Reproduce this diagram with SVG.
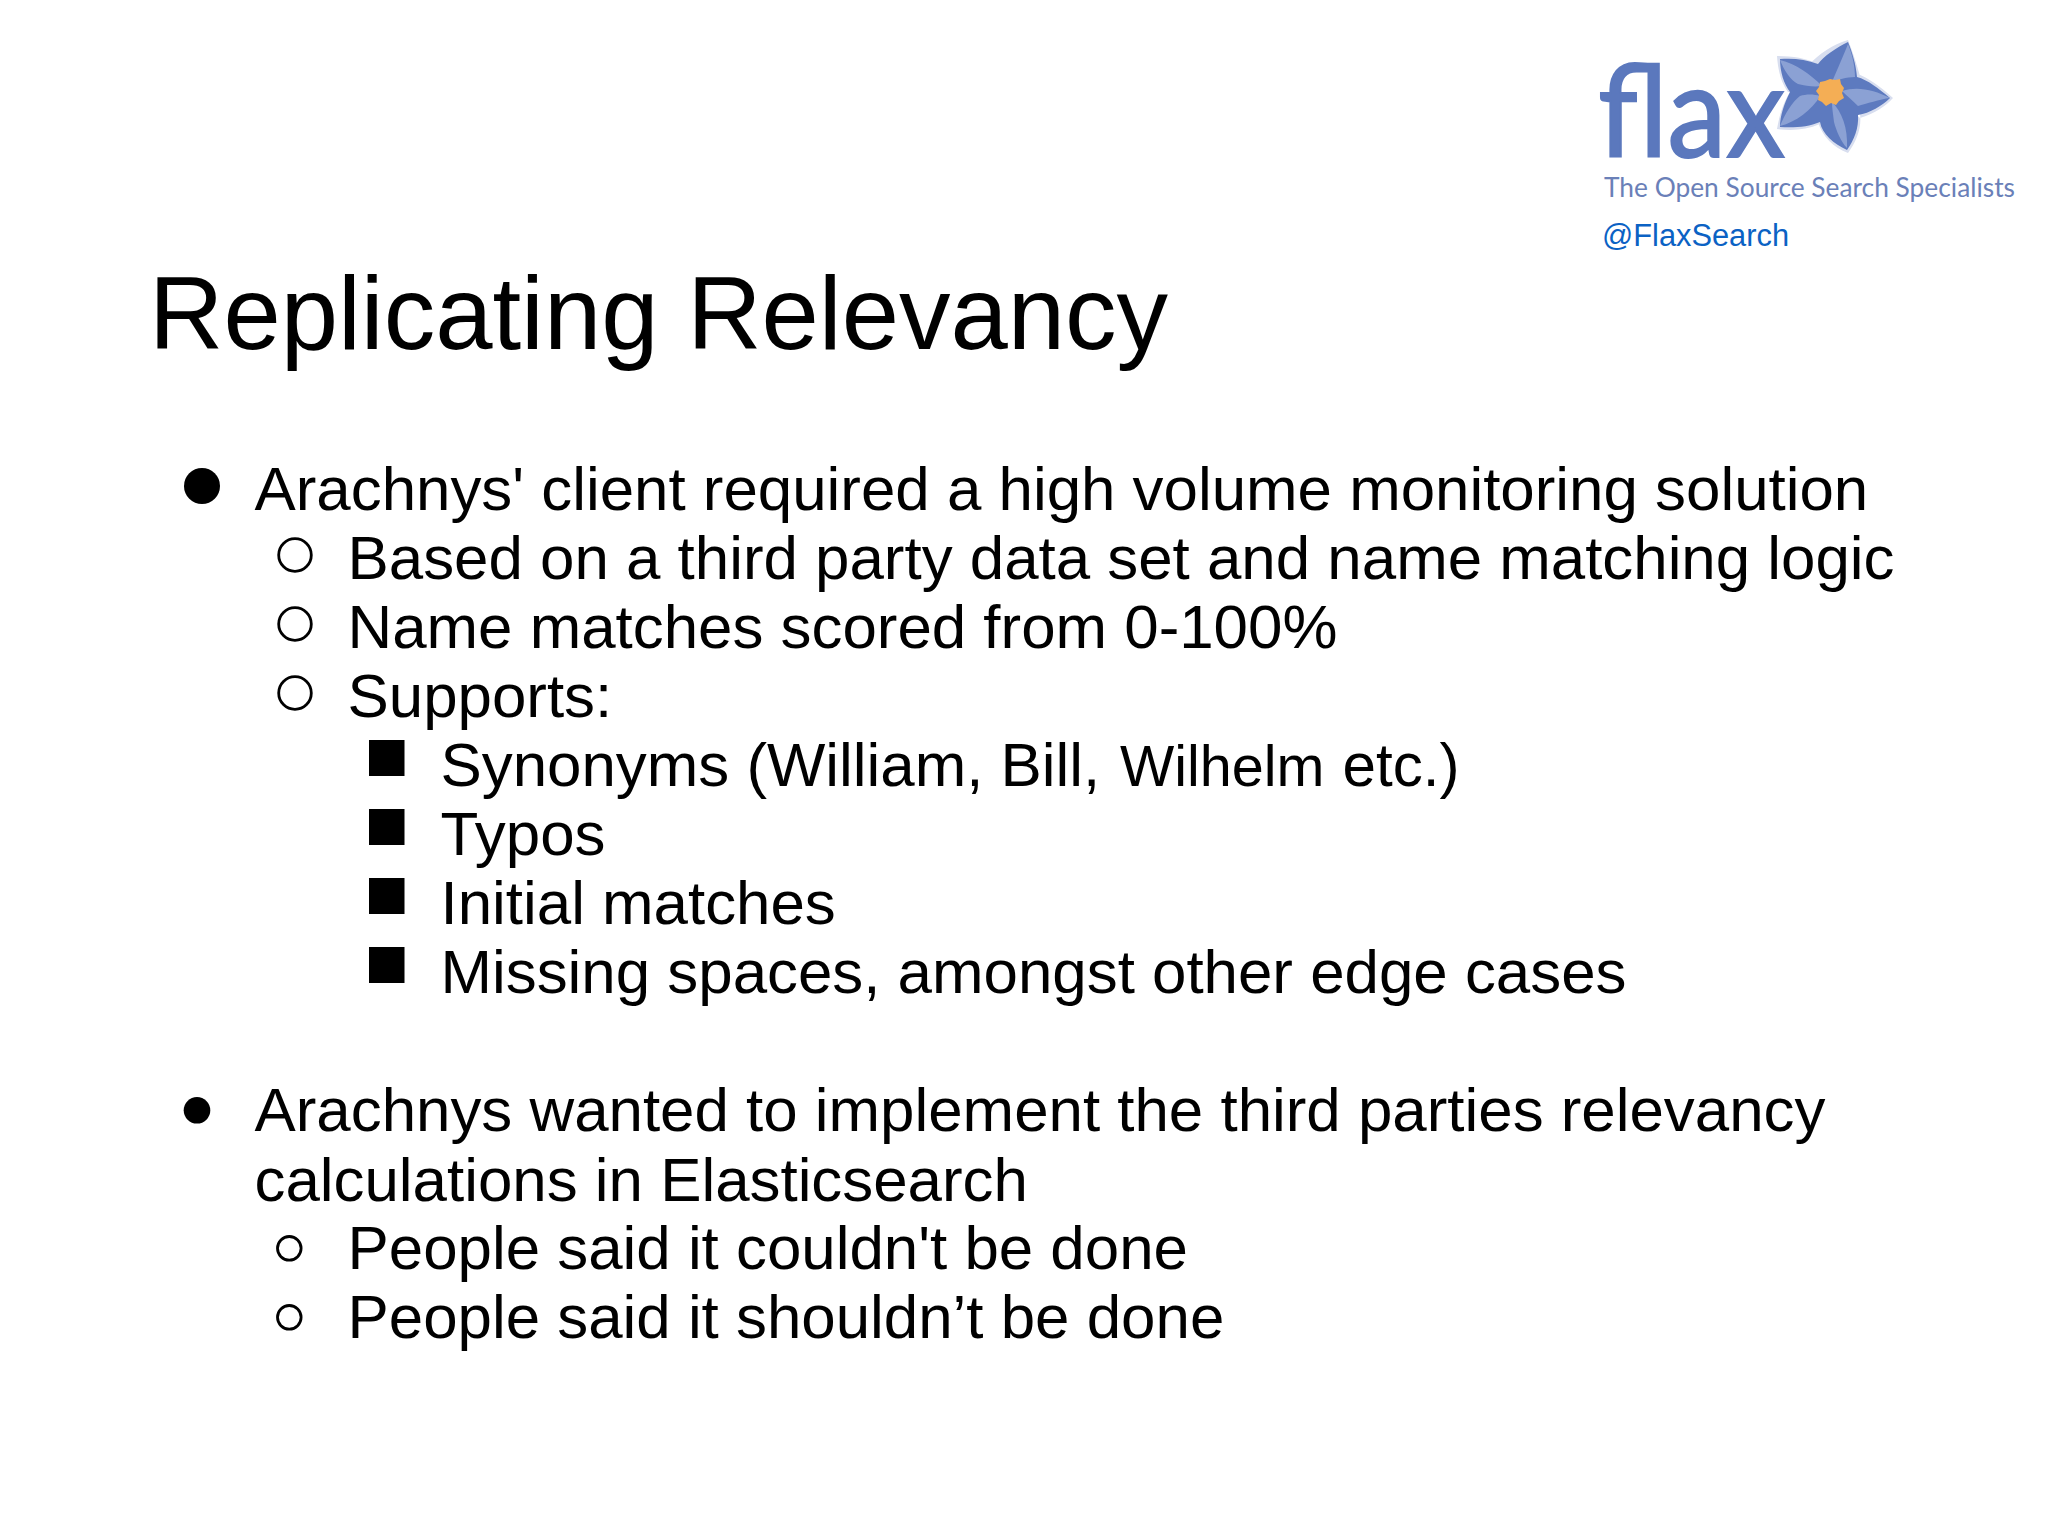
<svg xmlns="http://www.w3.org/2000/svg" width="2048" height="1535" viewBox="0 0 2048 1535">
<style>
text{font-family:"Liberation Sans",Arial,sans-serif;fill:#000}
.b{font-size:61.85px}
.t{font-size:103px}
.ring{fill:none;stroke:#000;stroke-width:2.8}
.rim{fill:#d8deef}
.dark{fill:#5d7abf}
.light{fill:#8ba1d4}
</style>
<rect width="2048" height="1535" fill="#fff"/>
<g id="logo">
<text x="1598" y="157" style="font-family:'Lato','Open Sans',sans-serif;font-size:128px;fill:#5b78bd;stroke:#5b78bd;stroke-width:2" textLength="187" lengthAdjust="spacingAndGlyphs">flax</text>
<g id="flower" transform="translate(1830 92)">
<path class="rim" d="M18-52C4-48-12-38-22-26L0 0 30-16C26-30 22-42 18-52ZM63 6C50-6 38-14 28-18L0 0 30 26C44 22 56 14 63 6ZM18 61C4 56-8 44-12 30L0 0 30 22C32 36 26 50 18 61ZM-53 37C-50 20-46 10-40 0L0 0-10 32C-24 38-38 39-53 37ZM-53-36C-52-20-48-8-42 0L0 0-12-28C-24-34-38-36-53-36Z"/>
<path class="dark" d="M18-50C6-44-6-36-12-28C-24-33-38-34-50-33C-50-20-46-8-40 0C-46 12-50 24-50 35C-36 36-22 35-10 30C-8 42 4 52 17 58C24 48 29 36 28 23C40 21 52 14 60 6C48-4 38-12 27-15C26-28 22-40 18-50Z"/>
<path class="light" d="M2-10C8-24 14-38 18-48C23-36 25-24 25-15 16-15 8-12 2-10ZM12-1C28-6 44-2 60 6 50 7 36 12 28 14 22 8 16 3 12-1ZM2 10C12 20 18 36 17 56 11 50 6 38 4 30 3 22 2 16 2 10ZM-10 4C-18 18-34 30-50 34-45 22-38 10-30 4-24 2-16 2-10 4ZM-8-6C-20-18-34-28-50-32-46-22-40-12-32-8-24-6-16-5-8-6Z"/>
<path fill="#f4ae55" d="M0-13L5-12 10-13 11-8 14-4 12 1 14 6 9 9 6 13 1 11-4 14-8 10-12 8-11 3-14-1-11-5-10-10-5-11Z"/>
</g>
<text x="1604" y="197" style="font-family:'Lato','Open Sans',sans-serif;font-size:27px;fill:#6a80b8" textLength="411" lengthAdjust="spacingAndGlyphs">The Open Source Search Specialists</text>
<text x="1602" y="245.5" style="font-size:30.8px;fill:#0b62c4">@FlaxSearch</text>
</g>
<g id="title"><text x="149" y="349" class="t">Replicating Relevancy</text></g>
<g id="list-1">
<circle cx="202" cy="486" r="18"/>
<text x="254.5" y="510" class="b">Arachnys' client required a high volume monitoring solution</text>
<circle cx="295" cy="555" r="16.3" class="ring"/>
<text x="347.5" y="579.3" class="b">Based on a third party data set and name matching logic</text>
<circle cx="295" cy="624" r="16.3" class="ring"/>
<text x="347.5" y="648.3" class="b">Name matches scored from 0-100%</text>
<circle cx="295" cy="693" r="16.3" class="ring"/>
<text x="347.5" y="717.3" class="b">Supports:</text>
<rect x="369" y="740" width="35.5" height="36"/>
<text x="440.5" y="786" class="b">Synonyms (William, Bill, <tspan x="1120" font-size="57.5">Wilhelm</tspan> <tspan x="1342.5" font-size="60.2">etc.)</tspan></text>
<rect x="369" y="809" width="35.5" height="36"/>
<text x="440.5" y="855" class="b">Typos</text>
<rect x="369" y="878" width="35.5" height="36"/>
<text x="440.5" y="924" class="b">Initial matches</text>
<rect x="369" y="947" width="35.5" height="36"/>
<text x="440.5" y="993" class="b">Missing spaces, amongst other edge cases</text>
</g>
<g id="list-2">
<circle cx="197" cy="1110.3" r="13.3"/>
<text x="254.5" y="1131" class="b">Arachnys wanted to implement the third parties relevancy</text>
<text x="254.5" y="1200.5" class="b">calculations in Elasticsearch</text>
<circle cx="289.3" cy="1248.3" r="11.8" class="ring"/>
<text x="347.5" y="1269" class="b">People said it couldn't be done</text>
<circle cx="289.3" cy="1317.3" r="11.8" class="ring"/>
<text x="347.5" y="1338" class="b">People said it shouldn’t be done</text>
</g>
</svg>
